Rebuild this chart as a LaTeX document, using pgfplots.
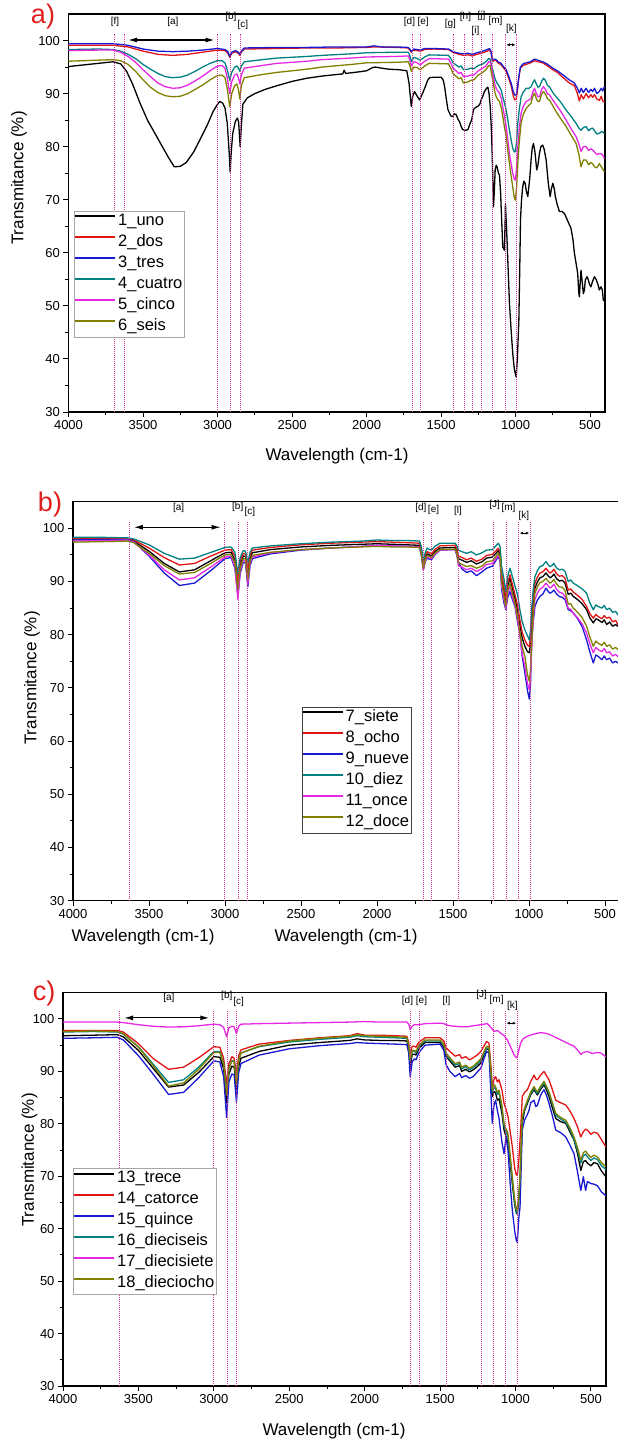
\documentclass[border=0pt]{standalone}
\usepackage{pgfplots}
\pgfplotsset{compat=1.18}
\usepackage{fontspec}
\setmainfont{Liberation Sans}
\usetikzlibrary{arrows.meta}
\definecolor{cBlack}{RGB}{0,0,0}
\definecolor{cRed}{RGB}{225,20,20}
\definecolor{cBlue}{RGB}{25,25,210}
\definecolor{cTeal}{RGB}{0,128,128}
\definecolor{cMag}{RGB}{230,40,230}
\definecolor{cOlive}{RGB}{128,128,0}
\definecolor{vln}{RGB}{215,60,150}
\definecolor{lblred}{RGB}{225,30,30}
\pgfplotsset{ftir/.style={scale only axis, x dir=reverse, xmin=400, xmax=4000, ymin=30, ymax=105,
  xtick={500,1000,...,4000}, ytick={30,40,...,100}, minor x tick num=1, minor y tick num=1,
  tick align=outside, tick pos=left, major tick length=5pt, minor tick length=3pt,
  axis line style={line width=1.1pt}, every tick/.style={black, line width=0.9pt},
  tick label style={font=\fontsize{13}{13}\selectfont},
  /pgf/number format/assume math mode=true, /pgf/number format/1000 sep={},
  clip mode=individual, no markers, legend cell align=left,
  legend image code/.code={\draw[#1, line width=1.8pt] (0pt,5.6pt) -- (40pt,5.6pt);},
  every axis plot/.append style={line width=1.3pt, line join=round}},
  legstyle/.style={legend style={font=\fontsize{16.5}{16.5}\selectfont, inner sep=0pt, row sep=0pt,
    line width=0.8pt, nodes={inner xsep=2pt, inner ysep=0pt, text height=14pt, text depth=7pt}}}}
\tikzset{vl/.style={vln, densely dotted, line width=1pt},
  br/.style={font=\fontsize{10}{10}\selectfont, inner sep=0pt}}
\newcommand{\lab}[1]{\fontsize{17}{17}\selectfont #1}
\begin{document}
\begin{tikzpicture}
\useasboundingbox (0,0) rectangle (618pt,-1441pt);
% ---------------- panel a
\begin{axis}[ftir, at={(68.5pt,-14pt)}, anchor=north west, width=536.5pt, height=398pt, legstyle,
  legend style={at={(rel axis cs:0.0103,0.506)}, anchor=north west, draw=gray!70}]
\addplot[cBlack] coordinates {(4000,95.1) (3900,95.4) (3800,95.7) (3700,96.0) (3650,95.6) (3610,94.2) (3570,91.8) (3520,88.2) (3470,85.0) (3430,83.0) (3380,80.5) (3330,78.0) (3290,76.2) (3250,76.3) (3210,77.0) (3160,79.0) (3120,81.2) (3070,84.0) (3030,86.6) (3000,88.0) (2985,88.5) (2965,88.2) (2950,87.3) (2935,84.5) (2922,79.0) (2915,75.2) (2908,79.0) (2898,82.5) (2880,84.8) (2866,85.4) (2858,84.5) (2848,80.0) (2840,84.0) (2830,88.0) (2800,89.2) (2750,90.0) (2680,90.8) (2600,91.5) (2500,92.3) (2400,92.9) (2300,93.3) (2200,93.6) (2160,93.7) (2150,94.4) (2140,93.8) (2050,94.1) (2000,94.3) (1960,94.9) (1940,95.0) (1900,94.8) (1850,94.6) (1780,94.5) (1730,94.3) (1715,92.0) (1700,87.6) (1690,89.5) (1678,90.4) (1660,89.5) (1644,88.8) (1625,90.0) (1610,91.0) (1590,92.5) (1577,93.0) (1540,93.1) (1499,93.1) (1485,92.5) (1476,91.3) (1465,89.0) (1454,87.0) (1435,85.8) (1421,85.7) (1410,86.2) (1398,86.0) (1387,85.2) (1376,84.7) (1365,83.8) (1354,83.2) (1335,83.1) (1320,83.2) (1305,84.4) (1295,85.0) (1282,87.0) (1268,87.4) (1253,87.6) (1240,88.0) (1231,88.8) (1220,89.5) (1209,90.4) (1195,91.0) (1186,91.2) (1178,90.0) (1170,87.6) (1162,83.0) (1157,78.7) (1148,68.7) (1142,72.0) (1137,75.6) (1130,76.5) (1124,76.2) (1115,75.0) (1108,74.7) (1100,71.0) (1097,68.7) (1086,61.1) (1075,60.5) (1070,66.0) (1068,69.3) (1063,66.0) (1059,63.6) (1050,57.0) (1041,50.4) (1030,45.5) (1019,41.0) (1008,38.0) (996,36.6) (988,40.0) (978,47.3) (972,57.0) (967,66.2) (960,70.0) (952,72.5) (944,73.5) (936,73.1) (927,71.5) (918,70.6) (905,74.0) (896,77.5) (888,79.8) (880,80.6) (870,79.0) (858,75.6) (850,76.5) (840,78.7) (830,80.0) (818,80.3) (808,79.5) (795,77.5) (780,73.0) (768,70.6) (760,72.0) (750,73.1) (740,72.0) (733,70.6) (720,69.0) (706,67.8) (690,67.8) (672,67.4) (650,66.0) (628,64.6) (615,62.5) (605,59.9) (594,58.0) (583,56.1) (576,52.5) (572,51.7) (566,54.5) (561,56.7) (553,54.5) (545,52.3) (538,53.0) (532,54.9) (520,55.5) (512,54.9) (503,54.0) (494,53.6) (485,54.5) (471,55.5) (460,55.0) (449,54.2) (438,53.0) (427,53.6) (418,53.0) (411,51.0) (404,51.2)};
\addplot[cRed] coordinates {(4000,99.1) (3800,99.1) (3700,99.1) (3600,98.8) (3500,98.0) (3400,97.4) (3300,97.2) (3200,97.4) (3100,97.8) (3000,98.2) (2950,98.1) (2930,97.6) (2918,96.8) (2905,97.6) (2880,97.9) (2860,97.6) (2850,97.2) (2840,97.8) (2820,98.4) (2600,98.5) (2400,98.6) (2200,98.6) (2000,98.7) (1950,98.8) (1800,98.7) (1720,98.6) (1710,98.2) (1700,97.8) (1685,98.2) (1660,98.1) (1640,98.0) (1610,98.3) (1550,98.4) (1450,98.3) (1420,97.8) (1380,97.4) (1350,97.2) (1320,97.3) (1290,97.1) (1260,97.4) (1230,97.6) (1200,97.9) (1175,98.2) (1165,97.8) (1155,96.0) (1145,96.3) (1130,96.2) (1115,95.7) (1100,95.5) (1085,95.0) (1063,94.2) (1045,92.8) (1030,91.5) (1015,89.5) (1005,88.8) (995,89.0) (988,90.5) (978,93.0) (968,94.8) (950,95.3) (929,95.5) (900,95.8) (873,96.2) (850,96.0) (818,95.8) (790,95.3) (750,94.5) (720,94.0) (680,93.0) (640,92.0) (605,91.5) (585,90.0) (572,88.6) (560,89.8) (545,89.0) (527,90.0) (510,89.2) (495,89.8) (483,89.3) (470,89.8) (455,89.0) (438,88.7) (425,89.5) (415,88.6) (404,88.4)};
\addplot[cBlue] coordinates {(4000,99.4) (3800,99.4) (3700,99.4) (3600,99.1) (3500,98.4) (3400,98.0) (3300,97.9) (3200,98.0) (3100,98.2) (3000,98.5) (2950,98.3) (2930,97.9) (2918,97.0) (2905,97.8) (2880,98.1) (2860,97.8) (2850,97.4) (2840,98.0) (2820,98.6) (2600,98.7) (2400,98.7) (2200,98.8) (2000,98.8) (1950,99.0) (1900,98.8) (1800,98.8) (1720,98.7) (1710,98.4) (1700,97.9) (1685,98.4) (1660,98.3) (1640,98.2) (1610,98.5) (1550,98.5) (1450,98.4) (1420,97.9) (1380,97.6) (1350,97.5) (1320,97.6) (1290,97.4) (1260,97.7) (1230,97.9) (1200,98.2) (1175,98.5) (1165,98.0) (1155,96.3) (1145,96.5) (1130,96.4) (1115,95.9) (1100,95.8) (1085,95.2) (1063,94.5) (1045,93.2) (1030,92.0) (1015,90.3) (1005,89.7) (995,89.8) (988,91.0) (978,93.2) (968,95.0) (950,95.6) (929,95.8) (900,96.0) (873,96.5) (850,96.3) (818,96.0) (790,95.6) (750,94.8) (720,94.3) (680,93.5) (640,92.6) (605,92.0) (585,91.0) (572,90.1) (560,91.0) (545,90.2) (527,91.0) (510,90.2) (495,90.8) (483,90.4) (470,91.0) (455,90.0) (438,90.4) (425,91.0) (415,90.5) (404,91.3)};
\addplot[cTeal] coordinates {(4000,98.3) (3800,98.4) (3700,98.3) (3650,98.0) (3600,97.4) (3550,96.6) (3500,95.5) (3450,94.6) (3400,93.8) (3350,93.2) (3300,93.0) (3250,93.1) (3200,93.5) (3150,94.2) (3100,95.0) (3050,95.7) (3000,96.2) (2970,96.2) (2950,95.8) (2935,94.5) (2918,92.5) (2905,94.0) (2885,95.0) (2870,95.2) (2860,94.8) (2850,94.2) (2840,95.2) (2820,96.0) (2700,96.4) (2600,96.7) (2400,97.0) (2300,97.2) (2100,97.5) (2000,97.7) (1800,97.8) (1720,97.8) (1710,97.2) (1700,96.0) (1690,96.5) (1680,96.8) (1660,96.6) (1640,96.3) (1610,96.9) (1580,97.3) (1450,97.2) (1430,96.4) (1420,95.8) (1400,95.4) (1380,95.0) (1365,95.2) (1350,94.5) (1320,94.6) (1300,94.8) (1280,94.7) (1250,95.3) (1220,95.6) (1200,96.0) (1180,96.6) (1170,96.5) (1160,95.0) (1153,94.5) (1140,93.0) (1130,92.3) (1120,91.8) (1108,91.3) (1095,90.5) (1086,89.4) (1075,88.3) (1063,86.9) (1052,85.0) (1041,83.1) (1030,81.3) (1019,79.7) (1008,79.0) (1001,79.1) (993,81.0) (985,84.4) (975,87.0) (963,89.4) (950,90.2) (929,91.0) (910,91.0) (896,91.3) (885,92.0) (873,92.6) (860,91.8) (850,91.2) (840,91.3) (825,92.3) (813,92.9) (800,92.5) (785,91.5) (773,91.3) (750,90.2) (728,89.4) (700,88.5) (661,86.9) (630,85.8) (594,84.4) (575,83.5) (561,83.1) (545,83.6) (527,83.8) (510,83.0) (495,83.4) (483,83.5) (470,83.0) (455,82.4) (438,82.5) (420,82.9) (404,82.5)};
\addplot[cMag] coordinates {(4000,98.1) (3800,98.2) (3700,98.2) (3650,97.8) (3600,97.0) (3550,95.9) (3500,94.5) (3450,93.2) (3400,92.0) (3350,91.3) (3300,91.0) (3250,91.1) (3200,91.6) (3150,92.4) (3100,93.3) (3050,94.3) (3000,95.2) (2970,95.3) (2950,94.8) (2935,93.0) (2918,90.0) (2905,92.2) (2885,93.5) (2870,93.7) (2860,93.0) (2850,91.8) (2840,93.5) (2820,94.8) (2700,95.3) (2600,95.7) (2400,96.1) (2300,96.4) (2100,96.7) (2000,96.9) (1800,97.0) (1720,97.1) (1710,96.4) (1700,95.2) (1690,95.7) (1680,96.0) (1660,95.8) (1640,95.4) (1610,96.1) (1580,96.6) (1450,96.5) (1430,95.5) (1420,94.8) (1400,94.3) (1380,93.8) (1365,94.0) (1350,93.2) (1320,93.3) (1300,93.5) (1280,93.5) (1250,94.3) (1220,94.8) (1200,95.2) (1180,96.0) (1170,96.0) (1160,94.5) (1153,93.8) (1140,91.8) (1130,91.0) (1120,90.5) (1108,90.1) (1095,89.0) (1086,87.5) (1075,85.8) (1063,83.8) (1052,81.3) (1041,78.7) (1030,76.8) (1019,75.0) (1008,73.8) (1001,73.7) (993,76.0) (985,80.0) (975,83.5) (963,86.3) (950,87.5) (929,88.5) (910,88.8) (896,89.1) (885,90.3) (873,91.0) (860,90.0) (850,89.4) (840,89.4) (825,90.8) (813,91.3) (800,90.8) (785,89.9) (773,89.8) (750,88.8) (728,87.9) (700,86.8) (661,85.0) (630,83.5) (594,81.9) (575,80.5) (561,79.1) (545,80.0) (527,80.0) (510,79.3) (495,79.6) (483,79.4) (470,79.0) (455,78.5) (438,78.7) (420,78.6) (404,77.8)};
\addplot[cOlive] coordinates {(4000,96.1) (3800,96.3) (3700,96.4) (3650,96.2) (3600,95.5) (3550,94.2) (3500,92.6) (3450,91.2) (3400,90.2) (3350,89.6) (3300,89.4) (3250,89.5) (3200,90.0) (3150,90.8) (3100,91.6) (3050,92.6) (3000,93.4) (2970,93.5) (2950,93.0) (2935,91.0) (2918,87.5) (2905,90.0) (2885,91.5) (2870,91.8) (2860,90.8) (2850,89.0) (2840,91.5) (2820,93.0) (2700,93.6) (2600,94.0) (2400,94.6) (2300,95.0) (2100,95.5) (2000,95.8) (1800,95.9) (1720,96.0) (1710,95.3) (1700,94.2) (1690,94.7) (1680,95.0) (1660,94.9) (1640,94.5) (1610,95.2) (1580,95.7) (1450,95.6) (1430,94.5) (1420,93.8) (1400,93.3) (1380,92.8) (1365,93.0) (1350,92.0) (1320,92.2) (1300,92.5) (1280,92.6) (1250,93.5) (1220,94.0) (1200,94.5) (1180,95.3) (1170,95.2) (1160,93.5) (1153,92.6) (1140,90.4) (1130,89.4) (1120,88.9) (1108,88.5) (1095,87.2) (1086,85.7) (1075,83.8) (1063,81.9) (1052,79.3) (1041,76.8) (1030,74.5) (1019,72.4) (1008,70.3) (1001,69.9) (993,72.5) (985,76.8) (975,81.0) (963,84.4) (950,86.0) (929,87.2) (910,87.8) (896,88.2) (885,89.4) (873,90.1) (860,89.0) (850,88.5) (840,88.5) (825,89.9) (813,90.4) (800,89.9) (785,89.0) (773,88.8) (750,87.7) (728,86.6) (700,85.4) (661,83.8) (630,82.3) (594,80.6) (575,78.5) (561,76.2) (545,77.5) (527,77.5) (510,76.6) (495,77.0) (483,76.8) (470,76.2) (455,76.0) (438,76.8) (420,76.0) (404,75.3)};
\legend{1\_uno,2\_dos,3\_tres,4\_cuatro,5\_cinco,6\_seis}
\foreach \w in {3688,3622,2998,2910,2848,1695,1638,1416,1342,1290,1231,1152,1070,995}{\edef\tmp{\noexpand\draw[vl] (axis cs:\w,30) -- (axis cs:\w,101.3);}\tmp}
\draw[{Latex[length=9pt,width=5pt]}-{Latex[length=9pt,width=5pt]}, line width=1.2pt] (axis cs:3600,100.1) -- (axis cs:3020,100.1);
\draw[{Latex[length=3.5pt,width=3pt]}-{Latex[length=3.5pt,width=3pt]}, line width=0.7pt] (axis cs:1062,99.2) -- (axis cs:1000,99.2);
\node[br] at (axis cs:3688,103.5) {[f]};
\node[br] at (axis cs:3300,103.5) {[a]};
\node[br] at (axis cs:2910,104.5) {[b]};
\node[br] at (axis cs:2830,103.0) {[c]};
\node[br] at (axis cs:1712,103.5) {[d]};
\node[br] at (axis cs:1620,103.5) {[e]};
\node[br] at (axis cs:1437,103.2) {[g]};
\node[br] at (axis cs:1336,104.5) {[h]};
\node[br] at (axis cs:1269,101.8) {[i]};
\node[br] at (axis cs:1229,104.7) {[j]};
\node[br] at (axis cs:1135,103.7) {[m]};
\node[br] at (axis cs:1028,102.2) {[k]};
\end{axis}
\node[lblred, font=\fontsize{27}{27}\selectfont] at (43pt,-17pt) {a)};
\node[rotate=90] at (19pt,-178pt) {\lab{Transmitance (\%)}};
\node at (337pt,-456pt) {\lab{Wavelength (cm-1)}};
% ---------------- panel b
\begin{axis}[ftir, at={(73pt,-501.7pt)}, anchor=north west, width=547.2pt, height=399pt, legstyle,
  legend style={at={(rel axis cs:0.4176,0.486)}, anchor=north west, draw=black!75}]
\addplot[cBlack] coordinates {(4000,98.0) (3800,98.0) (3640,97.9) (3600,97.6) (3500,95.7) (3400,93.4) (3300,91.8) (3200,92.2) (3100,93.8) (3000,95.4) (2960,95.5) (2935,94.0) (2915,89.0) (2900,93.0) (2880,94.8) (2865,94.7) (2850,91.0) (2835,94.3) (2820,95.4) (2700,96.0) (2500,96.5) (2300,96.8) (2100,97.0) (2000,97.1) (1900,97.0) (1800,96.9) (1720,96.8) (1708,95.5) (1695,92.6) (1682,94.5) (1669,95.2) (1655,95.0) (1641,94.8) (1620,95.6) (1586,96.3) (1487,96.4) (1475,95.8) (1465,94.3) (1440,94.0) (1410,93.6) (1380,93.9) (1345,93.3) (1310,93.7) (1279,94.4) (1240,94.6) (1202,95.8) (1190,95.0) (1180,90.8) (1165,88.3) (1152,86.0) (1140,89.2) (1125,90.6) (1108,88.6) (1092,86.7) (1075,84.6) (1060,81.8) (1045,79.4) (1027,77.8) (1010,76.8) (998,76.6) (990,78.5) (983,82.0) (972,86.0) (961,88.75) (945,89.9) (928,90.7) (910,90.9) (888,91.6) (875,91.1) (862,90.7) (850,90.9) (836,91.4) (820,90.6) (801,90.1) (780,90.2) (763,89.7) (742,87.6) (725,87.8) (709,87.2) (680,86.6) (650,85.8) (621,84.7) (600,83.2) (577,82.2) (560,83.0) (544,82.8) (520,82.3) (505,82.8) (489,81.9) (470,82.4) (450,81.6) (430,81.9) (415,81.6) (400,81.4)};
\addplot[cRed] coordinates {(4000,98.1) (3800,98.1) (3640,98.0) (3600,97.8) (3500,96.3) (3400,94.5) (3300,93.1) (3200,93.4) (3100,94.7) (3000,95.9) (2960,96.0) (2935,94.8) (2915,90.0) (2900,93.8) (2880,95.3) (2865,95.2) (2850,92.3) (2835,94.9) (2820,95.9) (2700,96.4) (2500,96.9) (2300,97.2) (2100,97.4) (2000,97.5) (1900,97.4) (1800,97.3) (1720,97.2) (1708,96.0) (1695,93.0) (1682,94.9) (1669,95.6) (1655,95.4) (1641,95.2) (1620,96.0) (1586,96.7) (1487,96.8) (1475,96.2) (1465,94.8) (1440,94.5) (1410,94.1) (1380,94.4) (1345,93.8) (1310,94.2) (1279,94.9) (1240,95.1) (1202,96.25) (1190,95.5) (1180,91.5) (1165,89.0) (1152,86.8) (1140,89.8) (1125,91.25) (1108,89.3) (1092,87.5) (1075,85.5) (1060,82.8) (1045,80.5) (1027,79.0) (1010,78.0) (998,77.8) (990,79.5) (983,83.0) (972,87.0) (961,89.7) (945,90.8) (928,91.6) (910,91.8) (888,92.5) (875,92.0) (862,91.6) (850,91.8) (836,92.3) (820,91.5) (801,91.0) (780,91.1) (763,90.6) (742,88.4) (725,88.6) (709,88.0) (680,87.4) (650,86.6) (621,85.3) (600,84.0) (577,83.1) (560,83.8) (544,83.4) (520,83.0) (505,83.6) (489,83.1) (470,83.3) (450,82.4) (430,82.7) (415,81.9) (400,81.8)};
\addplot[cBlue] coordinates {(4000,97.8) (3800,97.9) (3640,97.9) (3600,97.5) (3500,94.8) (3400,91.6) (3300,89.25) (3200,89.7) (3100,91.9) (3000,94.3) (2960,94.5) (2935,92.5) (2915,87.5) (2900,91.5) (2880,93.6) (2865,93.5) (2850,89.0) (2835,93.0) (2820,94.3) (2700,95.2) (2500,95.9) (2300,96.3) (2100,96.6) (2000,96.8) (1900,96.7) (1800,96.6) (1720,96.4) (1708,94.8) (1695,92.2) (1682,93.8) (1669,94.4) (1655,94.2) (1641,94.1) (1620,95.0) (1586,95.9) (1487,96.0) (1475,95.0) (1465,93.75) (1440,92.3) (1410,91.7) (1380,92.0) (1345,91.1) (1310,91.8) (1279,92.5) (1240,92.9) (1202,94.7) (1190,93.8) (1180,88.5) (1165,86.0) (1152,84.7) (1140,87.0) (1125,88.1) (1108,86.5) (1092,85.3) (1075,82.3) (1060,80.3) (1045,76.0) (1027,72.8) (1010,69.5) (998,67.9) (990,70.5) (983,79.0) (972,82.5) (961,85.3) (945,86.5) (928,87.2) (910,87.6) (888,88.75) (875,88.2) (862,87.8) (850,88.0) (836,88.4) (820,87.7) (801,87.2) (780,87.0) (763,86.6) (742,84.7) (725,84.5) (709,84.1) (680,83.0) (650,81.5) (621,79.0) (600,76.8) (577,74.7) (560,76.2) (544,75.9) (520,75.3) (505,76.0) (489,75.3) (470,75.6) (450,74.7) (430,75.0) (415,74.7) (400,74.5)};
\addplot[cTeal] coordinates {(4000,98.3) (3800,98.3) (3640,98.2) (3600,98.0) (3500,96.9) (3400,95.3) (3300,94.2) (3200,94.4) (3100,95.4) (3000,96.4) (2960,96.5) (2935,95.5) (2915,91.5) (2900,94.5) (2880,95.8) (2865,95.7) (2850,93.5) (2835,95.5) (2820,96.3) (2700,96.7) (2500,97.1) (2300,97.4) (2100,97.6) (2000,97.8) (1900,97.7) (1800,97.7) (1720,97.6) (1708,96.5) (1695,93.8) (1682,95.5) (1669,96.3) (1655,96.0) (1641,95.9) (1620,96.6) (1586,97.2) (1487,97.2) (1475,96.8) (1465,95.9) (1440,95.6) (1410,95.3) (1380,95.6) (1345,95.0) (1310,95.4) (1279,95.9) (1240,96.0) (1202,97.2) (1190,96.5) (1180,92.8) (1165,90.5) (1152,88.1) (1140,91.0) (1125,92.5) (1108,90.8) (1092,89.1) (1075,87.5) (1060,84.7) (1045,82.5) (1027,80.9) (1010,79.8) (998,79.0) (990,81.0) (983,84.7) (972,88.5) (961,90.9) (945,92.0) (928,92.8) (910,93.0) (888,93.75) (875,93.2) (862,92.8) (850,93.0) (836,93.4) (820,92.6) (801,92.2) (780,92.3) (763,91.9) (742,90.0) (725,90.3) (709,89.7) (680,89.2) (650,88.6) (621,87.8) (600,86.0) (577,84.7) (560,85.6) (544,85.3) (520,85.0) (505,85.5) (489,84.7) (470,85.0) (450,84.2) (430,84.4) (415,83.75) (400,83.6)};
\addplot[cMag] coordinates {(4000,97.6) (3800,97.7) (3640,97.8) (3600,97.4) (3500,95.0) (3400,92.2) (3300,90.3) (3200,90.7) (3100,92.6) (3000,94.6) (2960,94.8) (2935,92.8) (2915,86.6) (2900,92.0) (2880,94.0) (2865,93.9) (2850,89.5) (2835,93.5) (2820,94.6) (2700,95.4) (2500,96.0) (2300,96.3) (2100,96.6) (2000,96.8) (1900,96.7) (1800,96.6) (1720,96.5) (1708,95.0) (1695,92.2) (1682,94.0) (1669,94.6) (1655,94.4) (1641,94.3) (1620,95.1) (1586,95.9) (1487,96.0) (1475,95.2) (1465,93.0) (1440,92.7) (1410,92.2) (1380,92.5) (1345,91.9) (1310,92.4) (1279,93.2) (1240,93.4) (1202,94.9) (1190,94.1) (1180,89.2) (1165,86.6) (1152,84.9) (1140,87.8) (1125,89.1) (1108,87.0) (1092,85.5) (1075,82.8) (1060,80.0) (1045,76.5) (1027,74.0) (1010,70.8) (998,69.7) (990,72.0) (983,76.8) (972,83.0) (961,86.6) (945,87.8) (928,88.6) (910,88.9) (888,89.7) (875,89.2) (862,88.8) (850,89.0) (836,89.5) (820,88.6) (801,88.0) (780,87.8) (763,87.2) (742,84.9) (725,84.8) (709,84.0) (680,83.2) (650,82.0) (621,80.3) (600,78.3) (577,76.6) (560,77.6) (544,77.2) (520,76.8) (505,77.4) (489,76.6) (470,76.8) (450,76.0) (430,76.3) (415,75.9) (400,75.8)};
\addplot[cOlive] coordinates {(4000,97.4) (3800,97.5) (3640,97.6) (3600,97.3) (3500,95.3) (3400,93.0) (3300,91.4) (3200,91.7) (3100,93.3) (3000,95.0) (2960,95.1) (2935,93.5) (2915,88.5) (2900,92.5) (2880,94.3) (2865,94.2) (2850,90.3) (2835,93.8) (2820,94.9) (2700,95.5) (2500,96.0) (2300,96.3) (2100,96.5) (2000,96.6) (1900,96.5) (1800,96.5) (1720,96.4) (1708,95.0) (1695,92.4) (1682,94.2) (1669,94.9) (1655,94.7) (1641,94.5) (1620,95.3) (1586,96.0) (1487,96.1) (1475,95.4) (1465,93.5) (1440,93.2) (1410,92.8) (1380,93.0) (1345,92.5) (1310,92.9) (1279,93.7) (1240,93.9) (1202,95.3) (1190,94.5) (1180,90.0) (1165,87.4) (1152,85.3) (1140,88.4) (1125,89.7) (1108,87.6) (1092,85.9) (1075,83.4) (1060,80.5) (1045,77.8) (1027,75.9) (1010,72.5) (998,71.25) (990,73.5) (983,78.0) (972,84.0) (961,87.8) (945,89.0) (928,89.8) (910,90.0) (888,90.6) (875,90.1) (862,89.7) (850,89.9) (836,90.4) (820,89.6) (801,89.0) (780,88.9) (763,88.3) (742,85.8) (725,85.8) (709,85.0) (680,84.2) (650,83.2) (621,81.6) (600,79.6) (577,77.8) (560,78.8) (544,78.4) (520,78.0) (505,78.6) (489,77.8) (470,78.1) (450,77.3) (430,77.6) (415,77.2) (400,77.0)};
\legend{7\_siete,8\_ocho,9\_nueve,10\_diez,11\_once,12\_doce}
\foreach \w in {3630,3003,2914,2854,1697,1642,1465,1232,1151,1071,990}{\edef\tmp{\noexpand\draw[vl] (axis cs:\w,30) -- (axis cs:\w,101.3);}\tmp}
\draw[{Latex[length=9pt,width=5pt]}-{Latex[length=9pt,width=5pt]}, line width=1.2pt] (axis cs:3600,100.2) -- (axis cs:3028,100.2);
\draw[{Latex[length=3.5pt,width=3pt]}-{Latex[length=3.5pt,width=3pt]}, line width=0.7pt] (axis cs:1062,99.1) -- (axis cs:998,99.1);
\node[br] at (axis cs:3305,103.8) {[a]};
\node[br] at (axis cs:2916,104.05) {[b]};
\node[br] at (axis cs:2836,103.1) {[c]};
\node[br] at (axis cs:1711,103.8) {[d]};
\node[br] at (axis cs:1628,103.4) {[e]};
\node[br] at (axis cs:1467,103.25) {[l]};
\node[br] at (axis cs:1226,104.4) {[J]};
\node[br] at (axis cs:1135,103.8) {[m]};
\node[br] at (axis cs:1033,102.3) {[k]};
\end{axis}
\node[lblred, font=\fontsize{27}{27}\selectfont] at (50pt,-505pt) {b)};
\node[rotate=90] at (32pt,-678pt) {\lab{Transmitance (\%)}};
\node at (143pt,-937pt) {\lab{Wavelength (cm-1)}};
\node at (346pt,-937pt) {\lab{Wavelength (cm-1)}};
% ---------------- panel c
\begin{axis}[ftir, at={(63pt,-992.7pt)}, anchor=north west, width=543pt, height=393.3pt, legstyle,
  legend style={at={(rel axis cs:0.0184,0.5535)}, anchor=north west, draw=gray!70}]
\addplot[cBlack] coordinates {(4000,96.8) (3800,96.9) (3640,97.0) (3600,96.6) (3500,94.0) (3400,90.5) (3300,87.0) (3200,87.4) (3100,89.8) (3000,92.8) (2960,92.7) (2935,90.5) (2915,84.0) (2900,89.5) (2880,91.0) (2865,90.8) (2850,86.5) (2835,91.0) (2820,92.5) (2700,93.8) (2500,95.0) (2300,95.5) (2100,95.9) (2050,96.2) (2000,96.0) (1900,95.9) (1800,95.9) (1720,95.8) (1708,94.2) (1698,90.9) (1685,93.2) (1670,93.3) (1660,93.1) (1640,94.4) (1600,95.5) (1500,95.5) (1475,94.6) (1460,92.8) (1435,92.0) (1400,90.8) (1370,91.1) (1357,90.0) (1330,90.4) (1305,89.9) (1280,90.3) (1250,91.0) (1230,91.6) (1192,94.4) (1176,94.0) (1160,87.5) (1154,85.2) (1143,86.2) (1132,85.9) (1120,84.5) (1109,84.8) (1090,82.0) (1076,78.8) (1063,77.6) (1050,76.4) (1035,72.5) (1021,68.6) (1005,64.5) (995,63.0) (988,62.8) (978,65.5) (970,69.0) (962,75.0) (955,80.1) (940,82.5) (921,83.9) (900,85.5) (877,86.5) (866,86.0) (855,85.5) (833,86.6) (811,87.4) (795,86.5) (778,85.2) (755,83.0) (733,81.0) (700,80.4) (667,80.1) (640,78.5) (612,76.9) (590,74.5) (567,71.1) (550,72.8) (535,73.0) (523,72.5) (500,72.0) (480,72.6) (457,72.4) (430,71.0) (401,69.9)};
\addplot[cRed] coordinates {(4000,97.8) (3800,97.8) (3640,97.8) (3600,97.5) (3500,95.3) (3400,92.4) (3300,90.4) (3200,90.8) (3100,92.6) (3000,94.7) (2960,94.6) (2935,92.5) (2915,87.6) (2900,91.5) (2880,92.8) (2865,92.5) (2850,89.5) (2835,93.0) (2820,94.1) (2700,95.2) (2500,95.9) (2300,96.4) (2100,96.8) (2050,97.2) (2000,96.9) (1900,96.9) (1800,96.8) (1720,96.7) (1708,95.5) (1698,93.2) (1685,94.8) (1670,94.8) (1660,94.6) (1640,95.6) (1600,96.4) (1500,96.4) (1475,95.8) (1460,94.5) (1435,93.8) (1400,92.9) (1370,93.2) (1357,92.5) (1330,92.8) (1305,92.2) (1280,92.6) (1250,93.2) (1230,93.8) (1192,95.7) (1176,95.4) (1160,90.0) (1154,86.5) (1143,88.5) (1132,89.0) (1120,88.0) (1109,88.4) (1090,86.5) (1076,83.9) (1063,82.8) (1050,81.4) (1035,78.5) (1021,75.6) (1005,71.5) (995,70.3) (988,70.2) (978,73.0) (970,76.9) (962,81.0) (955,85.2) (940,86.0) (921,86.5) (900,88.0) (877,89.3) (866,88.6) (855,88.4) (833,89.3) (811,90.0) (795,89.2) (778,88.4) (755,86.5) (733,84.5) (700,84.0) (667,83.6) (640,82.5) (612,81.0) (590,79.5) (567,77.5) (550,78.5) (535,79.0) (523,78.8) (500,78.0) (480,78.4) (457,78.2) (430,77.0) (401,75.6)};
\addplot[cBlue] coordinates {(4000,96.3) (3800,96.4) (3640,96.5) (3600,96.0) (3500,93.0) (3400,89.4) (3300,85.6) (3200,86.0) (3100,88.8) (3000,92.0) (2960,91.8) (2935,89.0) (2915,81.2) (2900,88.0) (2880,89.5) (2865,89.3) (2850,84.1) (2835,89.8) (2820,91.5) (2700,93.1) (2500,94.3) (2300,94.9) (2100,95.3) (2050,95.5) (2000,95.4) (1900,95.3) (1800,95.2) (1720,95.1) (1708,93.5) (1698,89.0) (1685,91.8) (1670,92.4) (1660,92.2) (1640,93.6) (1600,95.0) (1500,95.2) (1475,94.0) (1460,91.25) (1435,90.0) (1400,89.0) (1370,89.6) (1357,88.8) (1330,89.2) (1305,88.7) (1280,89.0) (1250,90.0) (1230,90.6) (1192,93.8) (1176,93.5) (1160,84.0) (1154,80.1) (1143,83.5) (1132,84.5) (1120,82.5) (1109,81.0) (1090,76.5) (1076,74.3) (1063,77.5) (1050,75.0) (1035,68.5) (1021,63.5) (1005,59.5) (995,57.8) (988,57.4) (978,62.0) (970,64.1) (962,72.0) (955,78.8) (940,80.7) (921,81.8) (910,82.6) (900,84.0) (877,84.5) (866,83.3) (855,83.5) (833,85.5) (811,86.5) (795,85.5) (778,83.9) (755,81.5) (733,78.8) (700,78.3) (667,77.5) (640,76.0) (612,74.3) (590,71.0) (567,67.3) (550,69.9) (535,67.3) (523,69.0) (500,68.6) (480,68.5) (457,68.2) (430,67.0) (401,66.3)};
\addplot[cTeal] coordinates {(4000,97.5) (3800,97.6) (3640,97.5) (3600,97.1) (3500,94.7) (3400,91.3) (3300,87.9) (3200,88.4) (3100,90.8) (3000,93.8) (2960,93.8) (2935,91.6) (2915,85.8) (2900,90.6) (2880,92.1) (2865,91.9) (2850,87.8) (2835,92.1) (2820,93.5) (2700,94.7) (2500,95.6) (2300,96.1) (2100,96.5) (2050,96.8) (2000,96.6) (1900,96.5) (1800,96.4) (1720,96.3) (1708,94.8) (1698,92.0) (1685,93.8) (1670,93.8) (1660,93.6) (1640,94.8) (1600,95.8) (1500,95.8) (1475,95.0) (1460,93.2) (1435,92.3) (1400,91.2) (1370,91.5) (1357,90.5) (1330,90.9) (1305,90.3) (1280,90.7) (1250,91.5) (1230,92.1) (1192,94.5) (1176,94.3) (1160,88.5) (1154,86.0) (1143,87.0) (1132,86.7) (1120,85.6) (1109,86.0) (1090,83.0) (1076,79.6) (1063,78.5) (1050,77.6) (1035,73.2) (1021,69.2) (1005,64.8) (995,63.2) (988,63.0) (978,66.0) (970,69.5) (962,75.5) (955,81.0) (940,82.7) (921,84.2) (900,85.7) (877,86.8) (866,86.2) (855,85.8) (833,86.9) (811,87.7) (795,86.9) (778,85.8) (755,83.7) (733,81.6) (700,80.9) (667,80.3) (640,78.9) (612,77.0) (590,75.0) (567,72.5) (550,73.9) (535,74.2) (523,73.7) (500,73.0) (480,73.5) (457,73.2) (430,72.0) (401,71.3)};
\addplot[cMag] coordinates {(4000,99.4) (3800,99.4) (3640,99.4) (3600,99.3) (3500,98.9) (3400,98.6) (3300,98.45) (3200,98.5) (3100,98.7) (3000,99.0) (2960,98.9) (2935,98.4) (2915,96.6) (2900,98.3) (2880,98.6) (2865,98.5) (2850,97.2) (2835,98.6) (2820,99.0) (2700,99.1) (2500,99.2) (2300,99.3) (2100,99.4) (2000,99.5) (1900,99.4) (1800,99.4) (1720,99.4) (1708,99.0) (1698,98.0) (1685,98.6) (1670,98.9) (1660,98.9) (1640,98.9) (1600,99.1) (1500,99.2) (1475,99.1) (1460,98.9) (1435,98.7) (1400,98.6) (1357,98.5) (1320,98.5) (1280,98.7) (1230,98.9) (1187,99.1) (1160,98.3) (1143,97.6) (1120,97.8) (1098,97.3) (1076,96.8) (1054,96.0) (1030,94.5) (1010,93.2) (995,92.6) (988,92.8) (978,94.0) (966,95.4) (950,96.2) (921,96.7) (880,97.1) (833,97.4) (789,97.2) (750,96.7) (700,96.0) (650,95.3) (612,94.8) (580,93.8) (567,93.2) (550,93.6) (523,93.8) (490,93.4) (460,93.6) (434,93.5) (401,92.8)};
\addplot[cOlive] coordinates {(4000,97.6) (3800,97.7) (3640,97.6) (3600,97.2) (3500,94.6) (3400,91.0) (3300,87.2) (3200,87.8) (3100,90.4) (3000,93.6) (2960,93.6) (2935,91.5) (2915,85.5) (2900,90.5) (2880,92.0) (2865,91.8) (2850,87.5) (2835,92.0) (2820,93.5) (2700,94.8) (2500,95.8) (2300,96.3) (2100,96.7) (2050,97.0) (2000,96.8) (1900,96.7) (1800,96.6) (1720,96.5) (1708,95.0) (1698,92.2) (1685,94.0) (1670,94.0) (1660,93.8) (1640,95.0) (1600,96.0) (1500,96.0) (1475,95.2) (1460,93.5) (1435,92.6) (1400,91.5) (1370,91.8) (1357,90.8) (1330,91.2) (1305,90.6) (1280,91.0) (1250,91.8) (1230,92.4) (1192,94.8) (1176,94.6) (1160,89.0) (1154,86.5) (1143,87.5) (1132,87.1) (1120,86.0) (1109,86.4) (1090,83.5) (1076,80.1) (1063,79.0) (1050,78.2) (1035,74.0) (1021,69.9) (1005,65.5) (995,63.8) (988,63.5) (978,66.5) (970,69.9) (962,76.0) (955,81.4) (940,83.0) (921,84.5) (900,86.0) (877,87.1) (866,86.5) (855,86.1) (833,87.2) (811,88.1) (795,87.2) (778,86.1) (755,84.0) (733,82.0) (700,81.2) (667,80.7) (640,79.3) (612,77.5) (590,75.6) (567,73.1) (550,74.5) (535,74.8) (523,74.3) (500,73.6) (480,74.0) (457,73.7) (430,72.6) (401,71.8)};
\legend{13\_trece,14\_catorce,15\_quince,16\_dieciseis,17\_diecisiete,18\_dieciocho}
\foreach \w in {3628,3000,2908,2853,1696,1636,1455,1228,1149,1066,988}{\edef\tmp{\noexpand\draw[vl] (axis cs:\w,30) -- (axis cs:\w,101.5);}\tmp}
\draw[{Latex[length=9pt,width=5pt]}-{Latex[length=9pt,width=5pt]}, line width=1.2pt] (axis cs:3595,100.2) -- (axis cs:3030,100.2);
\draw[{Latex[length=3.5pt,width=3pt]}-{Latex[length=3.5pt,width=3pt]}, line width=0.7pt] (axis cs:1060,99.2) -- (axis cs:995,99.2);
\node[br] at (axis cs:3298,104.1) {[a]};
\node[br] at (axis cs:2914,104.3) {[b]};
\node[br] at (axis cs:2835,103.3) {[c]};
\node[br] at (axis cs:1716,103.5) {[d]};
\node[br] at (axis cs:1623,103.5) {[e]};
\node[br] at (axis cs:1457,103.5) {[l]};
\node[br] at (axis cs:1224,104.5) {[J]};
\node[br] at (axis cs:1125,103.7) {[m]};
\node[br] at (axis cs:1021,102.4) {[k]};
\end{axis}
\node[lblred, font=\fontsize{27}{27}\selectfont] at (44pt,-993pt) {c)};
\node[rotate=90] at (29.5pt,-1160pt) {\lab{Transmitance (\%)}};
\node at (334pt,-1431pt) {\lab{Wavelength (cm-1)}};
\end{tikzpicture}
\end{document}
